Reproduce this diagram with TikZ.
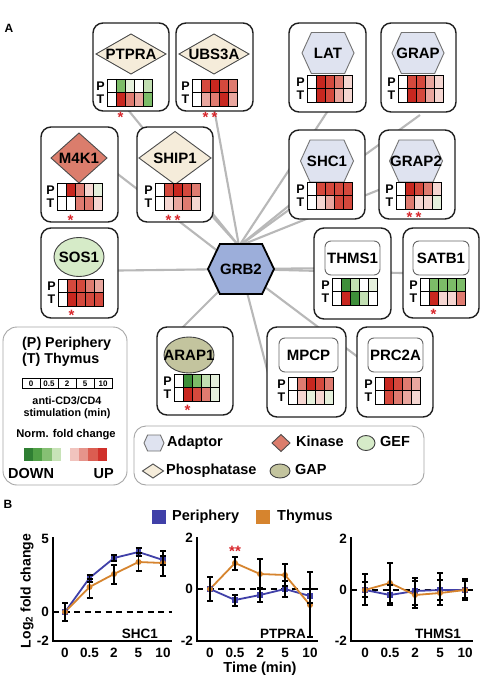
\documentclass[tikz,border=0pt]{standalone}
\usepackage{fontspec}
\setmainfont{Liberation Sans}
\newcommand\fsz[1]{\fontsize{#1}{#1}\selectfont}
\definecolor{hDR}{HTML}{C8271F}
\definecolor{hR}{HTML}{D5493D}
\definecolor{hMR}{HTML}{DF7B70}
\definecolor{hLR}{HTML}{E9A69E}
\definecolor{hPR}{HTML}{F5D6D1}
\definecolor{hPG}{HTML}{E5F0DC}
\definecolor{hLG}{HTML}{C2DFB2}
\definecolor{hG}{HTML}{7CBC68}
\definecolor{hDG}{HTML}{3E8F3A}
\definecolor{linkgray}{HTML}{B8B8B8}
\definecolor{phosfill}{HTML}{F5ECDA}
\definecolor{kinfill}{HTML}{DB7D6C}
\definecolor{adapfill}{HTML}{DFE3F0}
\definecolor{geffill}{HTML}{D6EBC8}
\definecolor{gapfill}{HTML}{C3C49E}
\definecolor{grbfill}{HTML}{9CAEDA}
\definecolor{astred}{HTML}{D8262B}
\definecolor{perblue}{HTML}{4040A8}
\definecolor{thyor}{HTML}{D6842E}
\definecolor{lb1}{HTML}{2F7F33}
\definecolor{lb2}{HTML}{50A046}
\definecolor{lb3}{HTML}{86C074}
\definecolor{lb4}{HTML}{C8E3B8}
\definecolor{lb6}{HTML}{F1C4BE}
\definecolor{lb7}{HTML}{E6948B}
\definecolor{lb8}{HTML}{DB5D51}
\definecolor{lb9}{HTML}{D0302A}
\tikzset{
 link/.style={draw=linkgray, line width=2.1pt},
 nbox/.style={draw=black!88, line width=1.4pt, fill=white, rounded corners=10pt},
 lbox/.style={draw=black!60, line width=0.9pt, fill=white, rounded corners=6pt},
 legbox/.style={draw=black!35, line width=0.9pt, rounded corners=14pt},
 sPhos/.style={draw=black!70, line width=0.9pt, fill=phosfill},
 sKin/.style={draw=black!70, line width=0.9pt, fill=kinfill},
 sAdap/.style={draw=black!55, line width=0.9pt, fill=adapfill},
 sGef/.style={draw=black!75, line width=0.9pt, fill=geffill},
 sGap/.style={draw=black!75, line width=0.9pt, fill=gapfill},
 sGrb/.style={draw=black, line width=1.8pt, fill=grbfill},
 glab/.style={font=\fsz{15}\bfseries, inner sep=0pt},
 ptlab/.style={font=\fsz{12.5}\bfseries, inner sep=0pt},
 astk/.style={font=\fsz{15}\bfseries, text=astred, inner sep=0pt},
 gridl/.style={draw=black, line width=0.7pt},
 ltxt/.style={font=\fsz{14.5}\bfseries, inner sep=0pt, anchor=west, text height=10.5pt, text depth=3pt},
 ctxt/.style={inner sep=0pt},
 axisl/.style={draw=black, line width=1.8pt},
 zline/.style={draw=black, line width=1.5pt, dash pattern=on 6pt off 4.5pt},
 pline/.style={line width=1.8pt},
 ebar/.style={draw=black, line width=1.4pt},
 tlab/.style={font=\fsz{13.5}\bfseries, inner sep=0pt},
}
\newcommand\hexa[5]{\draw[#5] ({#1-#3},#2) -- ({#1-0.64*#3},{#2-#4}) -- ({#1+0.64*#3},{#2-#4}) -- ({#1+#3},#2) -- ({#1+0.64*#3},{#2+#4}) -- ({#1-0.64*#3},{#2+#4}) -- cycle;}
\newcommand\diam[5]{\draw[#5] ({#1-#3},#2) -- (#1,{#2-#4}) -- ({#1+#3},#2) -- (#1,{#2+#4}) -- cycle;}
\newcommand\hm[5]{%
  \foreach \hmc [count=\hmi] in {#4} {\fill[fill=\hmc] ({#2+9*(\hmi-1)},#3) rectangle ++(9,13.5);}
  \foreach \hmc [count=\hmi] in {#5} {\fill[fill=\hmc] ({#2+9*(\hmi-1)},{#3+13.5}) rectangle ++(9,13.5);}
  \foreach \hmi in {1,2,3,4} {\draw[gridl] ({#2+9*\hmi},#3) -- ++(0,27);}
  \draw[gridl, line width=1pt] (#2,{#3+13.5}) -- ++(45,0);
  \draw[gridl] (#2,#3) rectangle ++(45,27);
  \node[ptlab] (#1P) at ({#2-6.5},{#3+6.9}) {P};
  \node[ptlab] (#1T) at ({#2-6.5},{#3+20.4}) {T};
}
\newcommand\astr[3]{\node[astk] (#1) at (#2,{#3+3.3}) {*};}
\newcommand\errb[3]{\draw[ebar] (#1,#2) -- (#1,#3) ({#1-3},#2) -- ({#1+3},#2) ({#1-3},#3) -- ({#1+3},#3);}
\begin{document}
\begin{tikzpicture}[x=1pt,y=-1pt]
\useasboundingbox[fill=white] (0,0) rectangle (484,679);
\node[font=\fsz{12}\bfseries, inner sep=0pt] (labA) at (9,28) {A};
% ---------- edges ----------
\coordinate (hub) at (239,246);
\coordinate (ctr) at (241,269);
\coordinate (e-ptpra) at (120,100);
\coordinate (e-ubs3a) at (208,75);
\coordinate (e-lat) at (335,100);
\coordinate (e-grap) at (420,115);
\coordinate (e-m4k1) at (80,145);
\coordinate (e-ship1) at (175,175);
\coordinate (e-shc1) at (327,175);
\coordinate (e-grap2) at (416,175);
\coordinate (e-sos1) at (79,271);
\coordinate (e-thms1) at (352,268);
\coordinate (e-satb1) at (441,274);
\coordinate (e-arap1) at (170,340);
\coordinate (e-mpcp) at (275,400);
\coordinate (e-prc2a) at (395,385);
\foreach \t in {ptpra,ubs3a,lat,grap,ship1,shc1,grap2} {\draw[link] (hub) -- (e-\t);}
\foreach \t in {m4k1,sos1,thms1,satb1,arap1,mpcp,prc2a} {\draw[link] (ctr) -- (e-\t);}
% ---------- PTPRA ----------
\draw[nbox] (93,23) rectangle (169,111);
\diam{131}{54}{35}{20}{sPhos}
\node[glab] (ptpra) at (131,54) {PTPRA};
\hm{ptpra}{107}{79}{white,hG,hPG,white,hLG}{white,hDR,hMR,hLR,hG}
\astr{ptpra-s}{120.5}{114}
% ---------- UBS3A ----------
\draw[nbox] (176,23) rectangle (253,111);
\diam{214}{54}{35}{20}{sPhos}
\node[glab] (ubs3a) at (214,54) {UBS3A};
\hm{ubs3a}{192}{79}{white,hR,hDR,hR,hMR}{white,hLR,hMR,hDR,hLR}
\astr{ubs3a-s1}{205.5}{114}
\astr{ubs3a-s2}{214.5}{114}
% ---------- LAT ----------
\draw[nbox] (289,23) rectangle (366,112);
\hexa{328}{53}{26}{20.5}{sAdap}
\node[glab] (lat) at (328,53) {LAT};
\hm{lat}{307}{75}{white,hDR,hR,hMR,hPR}{white,hDR,hR,hLR,hPR}
% ---------- GRAP ----------
\draw[nbox] (381,23) rectangle (456,112);
\hexa{418}{53}{26}{20.5}{sAdap}
\node[glab] (grap) at (418,53) {GRAP};
\hm{grap}{398}{75}{white,hR,hR,hLR,hPR}{white,hDR,hR,hLR,hPR}
% ---------- M4K1 ----------
\draw[nbox] (41,127) rectangle (118,222);
\diam{79}{158}{28}{25}{sKin}
\node[glab] (m4k1) at (79,158) {M4K1};
\hm{m4k1}{57}{183}{white,hDR,hMR,hPR,hPG}{white,white,hMR,hMR,hPR}
\astr{m4k1-s}{70.5}{217}
% ---------- SHIP1 ----------
\draw[nbox] (137,127) rectangle (213,222);
\diam{175}{158}{36}{26.5}{sPhos}
\node[glab] (ship1) at (175,158) {SHIP1};
\hm{ship1}{155}{183}{white,hR,hDR,hR,hMR}{white,hPR,hLR,hMR,hPR}
\astr{ship1-s1}{168.5}{217}
\astr{ship1-s2}{177.5}{217}
% ---------- SHC1 ----------
\draw[nbox] (289,130) rectangle (365,219);
\hexa{327}{161}{26.5}{21}{sAdap}
\node[glab] (shc1) at (327,161) {SHC1};
\hm{shc1}{307}{182}{white,hR,hR,hR,hR}{white,hPR,hLR,hR,hR}
% ---------- GRAP2 ----------
\draw[nbox] (379,130) rectangle (455,219);
\hexa{416}{161}{26.5}{21}{sAdap}
\node[glab] (grap2) at (416,161) {GRAP2};
\hm{grap2}{396}{182}{white,hDR,hR,hMR,hPR}{white,hMR,hPR,hPR,hPG}
\astr{grap2-s1}{409.5}{214}
\astr{grap2-s2}{418.5}{214}
% ---------- SOS1 ----------
\draw[nbox] (41,228) rectangle (118,318);
\draw[sGef] (79,257) ellipse [x radius=25pt, y radius=19.5pt];
\node[glab] (sos1) at (79,257) {SOS1};
\hm{sos1}{58}{279}{white,hR,hR,hMR,hLR}{white,hDR,hR,hR,hR}
\astr{sos1-s}{71.5}{312}
% ---------- THMS1 ----------
\draw[nbox] (314,228) rectangle (391,319);
\draw[lbox] (325,241) rectangle (380,275);
\node[glab] (thms1) at (352.5,258) {THMS1};
\hm{thms1}{332}{278}{white,hDG,hLG,white,hPG}{white,hDR,hDG,hLG,white}
% ---------- SATB1 ----------
\draw[nbox] (403,228) rectangle (479,318);
\draw[lbox] (413,241) rectangle (469,275);
\node[glab] (satb1) at (441,258) {SATB1};
\hm{satb1}{420}{278}{white,hG,hG,hG,hG}{white,hDR,hPR,hPR,hMR}
\astr{satb1-s}{433.5}{311}
% ---------- ARAP1 ----------
\draw[nbox] (157,327) rectangle (233,415);
\draw[sGap] (189,355) ellipse [x radius=25pt, y radius=18pt];
\node[glab] (arap1) at (189,355) {ARAP1};
\hm{arap1}{174}{374}{white,hDG,hG,hLG,hPG}{white,hDR,hR,hMR,hPG}
\astr{arap1-s}{187.5}{407}
% ---------- MPCP ----------
\draw[nbox] (267,327) rectangle (346,417);
\draw[lbox] (279,338) rectangle (338,372);
\node[glab] (mpcp) at (308.5,355) {MPCP};
\hm{mpcp}{288}{377}{white,hMR,hDR,hR,hMR}{white,hPR,hPG,hPR,hPG}
% ---------- PRC2A ----------
\draw[nbox] (357,327) rectangle (433,417);
\draw[lbox] (368,338) rectangle (423,372);
\node[glab] (prc2a) at (395.5,355) {PRC2A};
\hm{prc2a}{375}{377}{white,hDR,hR,hMR,hLR}{white,hR,hMR,hLR,hPR}
% ---------- GRB2 ----------
\hexa{241}{269}{33}{25}{sGrb}
\node[glab] (grb2) at (241,269) {GRB2};
% ---------- legend left ----------
\draw[legbox] (3,327) rectangle (127,485);
\node[ltxt, font=\fsz{14.3}\bfseries] (lg-p) at (22,344) {(P) Periphery};
\node[ltxt, font=\fsz{14.3}\bfseries] (lg-t) at (22,360) {(T) Thymus};
\foreach \k/\tt in {0/0,1/0.5,2/2,3/5,4/10} {
  \draw[black, line width=0.7pt] ({22+18*\k},378) rectangle ++(18,10.5);
  \node[ctxt, font=\fsz{8}\bfseries] (sc\k) at ({31+18*\k},383.3) {\tt};
}
\node[ctxt, font=\fsz{10.8}\bfseries] (lg-anti) at (67,401) {anti-CD3/CD4};
\node[ctxt, font=\fsz{10.8}\bfseries] (lg-stim) at (67,413.5) {stimulation (min)};
\node[ctxt, font=\fsz{11.2}\bfseries] (lg-norm) at (66,435) {Norm. fold change};
\foreach \cl [count=\i] in {lb1,lb2,lb3,lb4,white,lb6,lb7,lb8,lb9} {
  \fill[fill=\cl] ({24+9.2*(\i-1)},448) rectangle ++(9.2,12.5);
}
\node[ltxt] (lg-down) at (8,475) {DOWN};
\node[ltxt, anchor=east] (lg-up) at (114,475) {UP};
% ---------- legend right ----------
\draw[legbox, rounded corners=12pt] (134,426) rectangle (424,485);
\hexa{154}{443}{10}{8}{sAdap}
\node[ltxt] (lg-adap) at (167,443) {Adaptor};
\diam{281}{443}{9}{8.5}{sKin}
\node[ltxt] (lg-kin) at (296,443) {Kinase};
\draw[sGef] (366,443) ellipse [x radius=9pt, y radius=7.5pt];
\node[ltxt] (lg-gef) at (380,443) {GEF};
\diam{153}{471}{10.5}{7}{sPhos}
\node[ltxt] (lg-phos) at (166,471) {Phosphatase};
\draw[sGap] (280,471) ellipse [x radius=10pt, y radius=7pt];
\node[ltxt] (lg-gap) at (295,471) {GAP};
% ---------- panel B ----------
\node[font=\fsz{12}\bfseries, inner sep=0pt] (labB) at (8,504) {B};
\fill[perblue] (152,510) rectangle (166,524);
\node[ltxt] (leg-per) at (172,517) {Periphery};
\fill[thyor] (256,510) rectangle (270,524);
\node[ltxt] (leg-thy) at (277,517) {Thymus};
\node[rotate=90, font=\fsz{14}\bfseries, inner sep=0pt] (ylab) at (27,591) {Log\textsubscript{2} fold change};
% plot 1
\draw[zline] (53,612) -- (172,612);
\draw[axisl] (53,537) -- (53,641) -- (172,641);
\node[tlab, anchor=east] (p1y5) at (49,539) {5};
\node[tlab, anchor=east] (p1y0) at (49,612) {0};
\node[tlab, anchor=east] (p1ym2) at (49,641) {-2};
\foreach \xx/\tt [count=\i] in {65/0,89.5/0.5,114/2,138.5/5,163/10} {\node[tlab] (p1x\i) at (\xx,653) {\tt};}
\node[tlab, anchor=east] (p1name) at (158,634) {SHC1};
\draw[pline, perblue] (65,612) -- (89.5,578) -- (114,558) -- (138.5,552) -- (163,560);
\draw[pline, thyor] (65,612) -- (89.5,587) -- (114,574) -- (138.5,562) -- (163,563);
\foreach \xx/\yy in {65/612,89.5/578,114/558,138.5/552,163/560} {\fill[perblue] ({\xx-2.8},{\yy-2.8}) rectangle ++(5.6,5.6);}
\foreach \xx/\yy in {65/612,89.5/587,114/574,138.5/562,163/563} {\fill[thyor] (\xx,\yy) circle (3pt);}
\errb{65}{603}{621}
\errb{89.5}{575}{582}
\errb{89.5}{579}{598}
\errb{114}{555}{561}
\errb{114}{565}{584}
\errb{138.5}{548}{556}
\errb{138.5}{553}{571}
\errb{163}{556}{565}
\errb{163}{551}{576}
% plot 2
\draw[zline] (197,589) -- (318,589);
\draw[axisl] (197,537) -- (197,641) -- (318,641);
\node[tlab, anchor=east] (p2y2) at (193,538) {2};
\node[tlab, anchor=east] (p2y0) at (193,589) {0};
\node[tlab, anchor=east] (p2ym2) at (193,641) {-2};
\foreach \xx/\tt [count=\i] in {210/0,235/0.5,260/2,285/5,310/10} {\node[tlab] (p2x\i) at (\xx,653) {\tt};}
\node[tlab, anchor=east] (p2name) at (306,634) {PTPRA};
\node[astk] (p2star) at (235,551) {**};
\draw[pline, perblue] (210,589) -- (235,600) -- (260,595) -- (285,589) -- (310,596);
\draw[pline, thyor] (210,589) -- (235,563) -- (260,574) -- (285,575) -- (310,605);
\foreach \xx/\yy in {210/589,235/600,260/595,285/589,310/596} {\fill[perblue] ({\xx-2.8},{\yy-2.8}) rectangle ++(5.6,5.6);}
\foreach \xx/\yy in {210/589,235/563,260/574,285/575,310/605} {\fill[thyor] (\xx,\yy) circle (3pt);}
\errb{210}{577}{601}
\errb{235}{557}{570}
\errb{235}{595}{606}
\errb{260}{559}{589}
\errb{260}{588}{602}
\errb{285}{564}{586}
\errb{285}{581}{597}
\errb{310}{572}{637}
\errb{310}{589}{603}
% plot 3
\draw[zline] (351,590) -- (473,590);
\draw[axisl] (351,537) -- (351,641) -- (473,641);
\node[tlab, anchor=east] (p3y2) at (347,539) {2};
\node[tlab, anchor=east] (p3y0) at (347,590) {0};
\node[tlab, anchor=east] (p3ym2) at (347,641) {-2};
\foreach \xx/\tt [count=\i] in {365/0,390/0.5,415/2,440/5,465/10} {\node[tlab] (p3x\i) at (\xx,653) {\tt};}
\node[tlab, anchor=east] (p3name) at (461,634) {THMS1};
\draw[pline, perblue] (365,590) -- (390,595) -- (415,591) -- (440,590) -- (465,590);
\draw[pline, thyor] (365,590) -- (390,583) -- (415,595) -- (440,593) -- (465,590);
\foreach \xx/\yy in {365/590,390/595,415/591,440/590,465/590} {\fill[perblue] ({\xx-2.8},{\yy-2.8}) rectangle ++(5.6,5.6);}
\foreach \xx/\yy in {365/590,390/583,415/595,440/593,465/590} {\fill[thyor] (\xx,\yy) circle (3pt);}
\errb{365}{574}{605}
\errb{365}{582}{597}
\errb{390}{563}{603}
\errb{390}{585}{605}
\errb{415}{578}{608}
\errb{415}{581}{605}
\errb{440}{573}{605}
\errb{440}{580}{600}
\errb{465}{579}{600}
\errb{465}{581}{598}
\node[font=\fsz{14.5}\bfseries, inner sep=0pt] (xlab) at (260,669) {Time (min)};
\end{tikzpicture}
\end{document}
